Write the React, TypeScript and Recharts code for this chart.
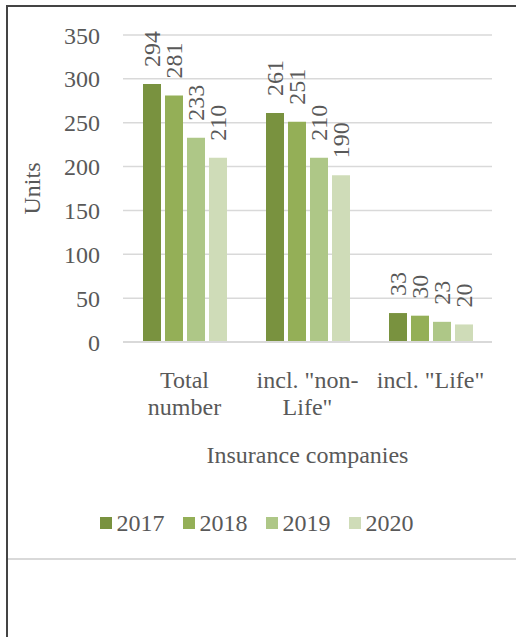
import React from 'react';
import { BarChart, Bar, XAxis, YAxis, CartesianGrid, Legend, LabelList, Label } from 'recharts';

const categories = ['Total number', 'incl. "non-Life"', 'incl. "Life"'];
const tickLines = [['Total', 'number'], ['incl. "non-', 'Life"'], ['incl. "Life"']];
const years = ['2017', '2018', '2019', '2020'];
const values2017 = [294, 261, 33];
const values2018 = [281, 251, 30];
const values2019 = [233, 210, 23];
const values2020 = [210, 190, 20];
const yTicks = [0, 50, 100, 150, 200, 250, 300, 350];
const colors = ['#79923F', '#94AF57', '#AEC787', '#CFDCB8'];
const yLabel = 'Units';
const xLabel = 'Insurance companies';

const seriesValues = [values2017, values2018, values2019, values2020];
const data = categories.map((c, i) => {
  const row: any = { name: c };
  years.forEach((y, k) => {
    row['y' + y] = seriesValues[k][i];
  });
  return row;
});

const FONT = 'Liberation Serif, Tinos, DejaVu Serif, serif';
const TEXT = '#595959';
const FS = 24;

const CatTick = (props: any) => {
  const { x, y, payload } = props;
  const idx = categories.indexOf(payload.value);
  const lines = idx >= 0 ? tickLines[idx] : [String(payload.value)];
  return (
    <g>
      {lines.map((l, i) => (
        <text key={i} x={x} y={y + 46 + i * 27} textAnchor="middle" fill={TEXT} style={{ fontFamily: FONT, fontSize: FS }}>
          {l}
        </text>
      ))}
    </g>
  );
};

const BarLabel = (props: any) => {
  const { x, y, width, value } = props;
  const cx = Number(x) + Number(width) / 2;
  const ty = Number(y) - 17;
  return (
    <text
      x={cx}
      y={ty}
      transform={`rotate(-90, ${cx}, ${ty})`}
      textAnchor="start"
      dominantBaseline="central"
      fill={TEXT}
      style={{ fontFamily: FONT, fontSize: FS }}
    >
      {value}
    </text>
  );
};

const YTitle = (props: any) => {
  const vb = props.viewBox || {};
  const cx = 40;
  const cy = vb.y + vb.height / 2;
  return (
    <text x={cx} y={cy} transform={`rotate(-90, ${cx}, ${cy})`} textAnchor="middle" fill={TEXT} style={{ fontFamily: FONT, fontSize: FS }}>
      {yLabel}
    </text>
  );
};

const XTitle = (props: any) => {
  const vb = props.viewBox || {};
  return (
    <text x={vb.x + vb.width / 2} y={vb.y + 121} textAnchor="middle" fill={TEXT} style={{ fontFamily: FONT, fontSize: FS }}>
      {xLabel}
    </text>
  );
};

const LegendContent = (props: any) => {
  const payload = props.payload || [];
  return (
    <div
      style={{
        display: 'flex',
        justifyContent: 'center',
        alignItems: 'center',
        height: 30,
        width: 516,
        paddingRight: 3,
        boxSizing: 'border-box',
        fontFamily: FONT,
        fontSize: FS,
        color: TEXT,
      }}
    >
      {payload.map((p: any, i: number) => (
        <div key={i} style={{ display: 'flex', alignItems: 'center', marginRight: i < payload.length - 1 ? 18 : 0 }}>
          <span style={{ display: 'inline-block', width: 12, height: 12, background: p.color, marginRight: 5 }} />
          <span>{p.value}</span>
        </div>
      ))}
    </div>
  );
};

export default function App() {
  return (
    <div style={{ position: 'absolute', left: 0, top: 0, width: 516, height: 637, overflow: 'hidden', background: '#fff', fontFamily: FONT }}>
      <div style={{ position: 'absolute', left: 6, top: 5, width: 2, height: 640, background: '#444' }} />
      <div style={{ position: 'absolute', left: 6, top: 5, width: 520, height: 1.5, background: '#444' }} />
      <div style={{ position: 'absolute', left: 8, top: 558, width: 520, height: 2, background: '#d9d9d9' }} />
      <div style={{ position: 'absolute', left: 0, top: 0 }}>
        <BarChart
          width={516}
          height={556}
          data={data}
          margin={{ top: 35, right: 24, left: 0, bottom: 84 }}
          barGap={4}
          style={{ fontFamily: FONT }}
        >
          <CartesianGrid vertical={false} stroke="#d9d9d9" strokeWidth={1.5} />
          <XAxis
            dataKey="name"
            height={130}
            tickLine={false}
            tickSize={0}
            tickMargin={0}
            axisLine={{ stroke: '#d9d9d9', strokeWidth: 2 }}
            tick={<CatTick />}
            interval={0}
          >
            <Label content={<XTitle />} />
          </XAxis>
          <YAxis
            width={123}
            domain={[0, 350]}
            ticks={yTicks}
            axisLine={false}
            tickLine={false}
            tickSize={0}
            tickMargin={23}
            tick={{ fill: TEXT, fontSize: FS, fontFamily: FONT, style: { fontFamily: FONT } }}
          >
            <Label content={<YTitle />} />
          </YAxis>
          <Legend
            verticalAlign="middle"
            align="center"
            layout="horizontal"
            wrapperStyle={{ top: 508, left: 0, width: 516 }}
            content={<LegendContent />}
          />
          {years.map((y, k) => (
            <Bar key={y} dataKey={'y' + y} name={y} fill={colors[k]} barSize={18} isAnimationActive={false}>
              <LabelList dataKey={'y' + y} content={<BarLabel />} />
            </Bar>
          ))}
        </BarChart>
      </div>
    </div>
  );
}
